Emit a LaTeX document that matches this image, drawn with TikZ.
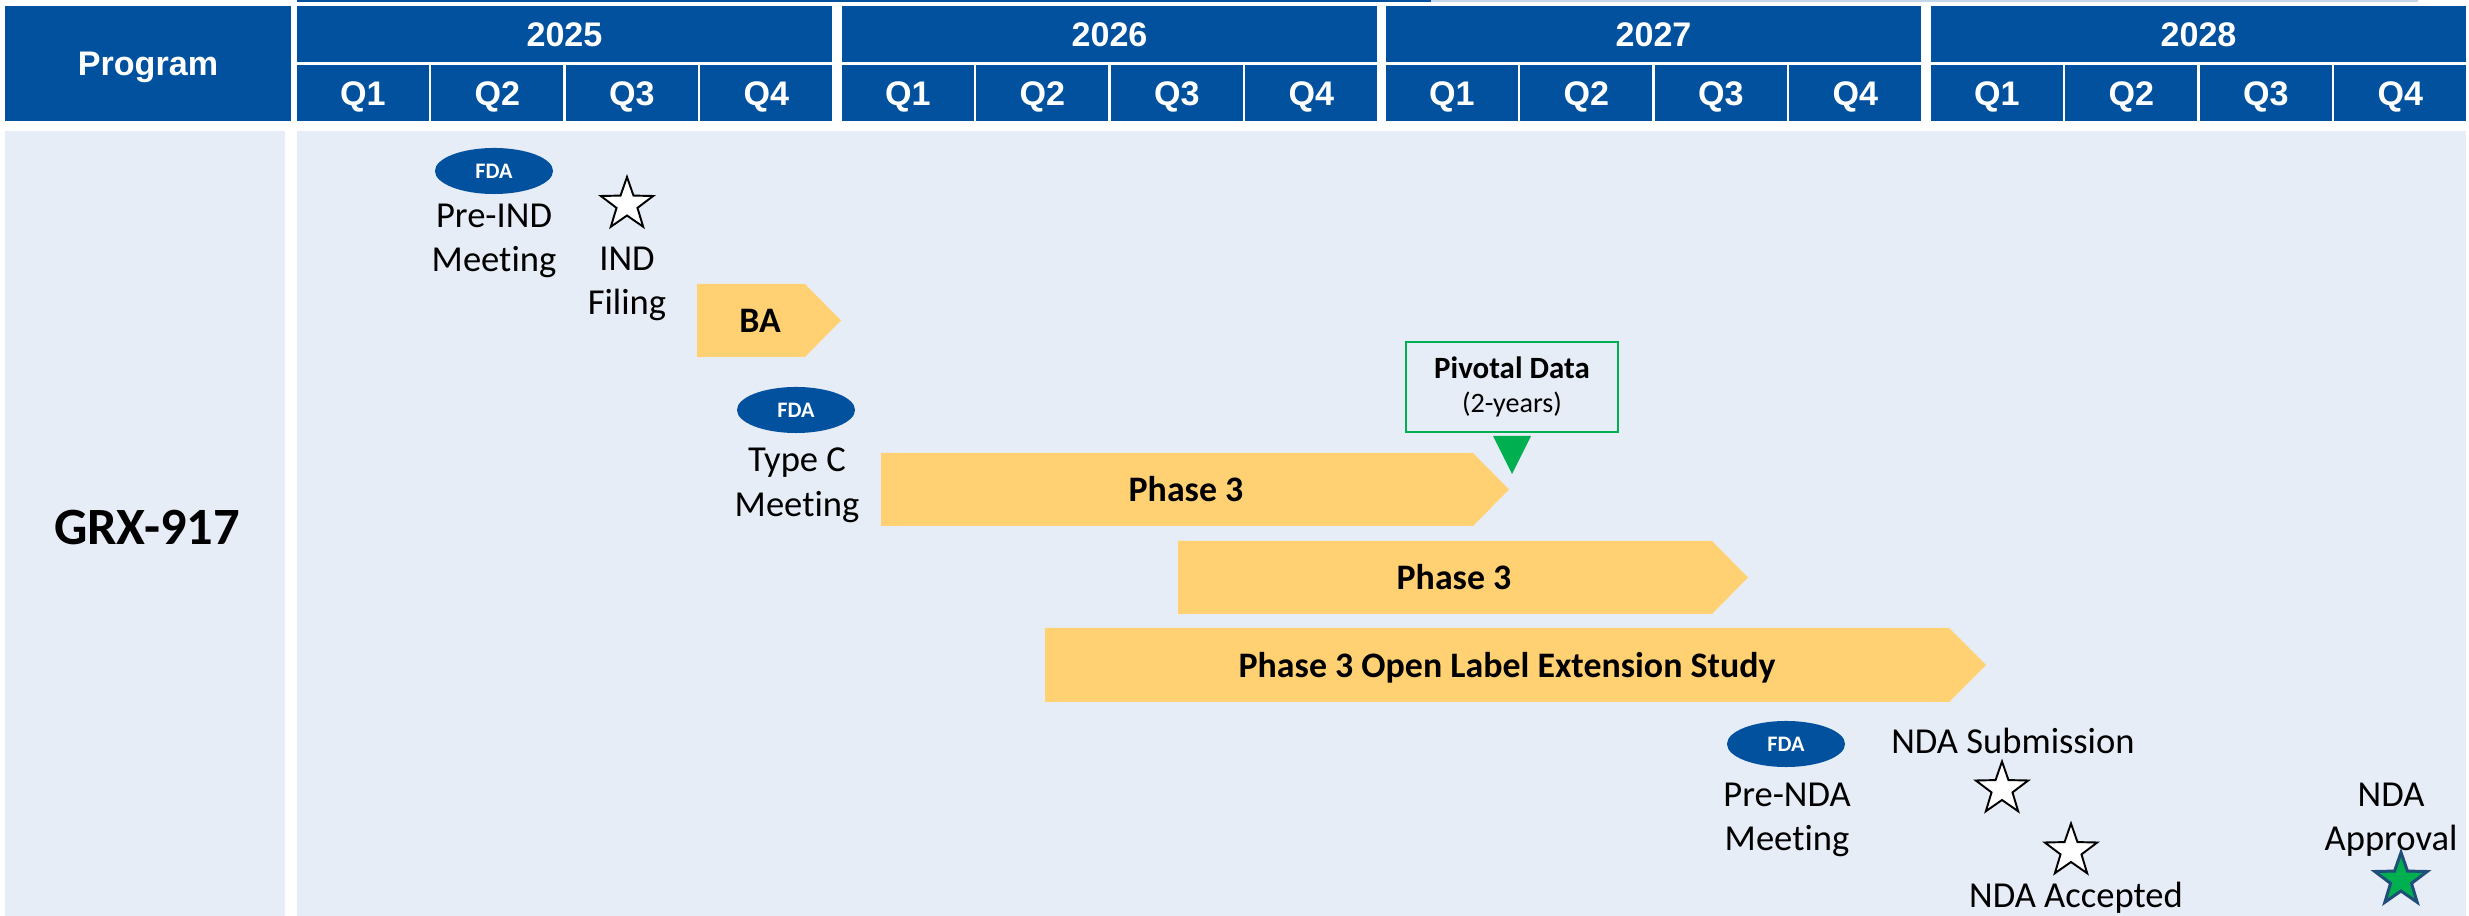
\documentclass[tikz,border=0pt]{standalone}
\usepackage{fontspec}
\setmainfont{Carlito}[Ligatures=NoCommon]
\newfontfamily\hdrfont{Liberation Sans}
\usetikzlibrary{shapes.geometric}

\definecolor{hdrblue}{RGB}{1,81,158}
\definecolor{toplight}{RGB}{196,213,234}
\definecolor{panelblue}{RGB}{231,237,246}
\definecolor{baryellow}{RGB}{255,209,115}
\definecolor{pivgreen}{RGB}{0,176,80}
\definecolor{starrim}{RGB}{31,78,121}

\begin{document}
\begin{tikzpicture}[
    x=0.01cm, y=-0.01cm,
    % Style for the header cells
    hdr/.style={
        fill=hdrblue, text=white, inner sep=0pt,
        text height=6.95pt, text depth=0pt,
        font=\hdrfont\bfseries\fontsize{9.7}{11}\selectfont
    },
    yearcell/.style={hdr, minimum width=5.35cm, minimum height=0.56cm},
    qcell/.style={hdr, minimum width=1.315cm, minimum height=0.56cm},
    % Style for the FDA meeting badges
    fda/.style={
        ellipse, fill=hdrblue, text=white, inner sep=0pt,
        minimum width=1.18cm, minimum height=0.46cm,
        font=\bfseries\fontsize{6.3}{7}\selectfont
    },
    % Style for the milestone stars
    milestone/.style={
        star, star points=5, star point ratio=2.5,
        minimum size=0.55cm, inner sep=0pt,
        draw=black, fill=white, line width=0.55pt
    },
    % Style for the event captions and bar texts
    lbl/.style={align=center, inner sep=0pt, font=\fontsize{10.4}{12.7}\selectfont},
    bartxt/.style={inner sep=0pt, anchor=base, font=\bfseries\fontsize{10.2}{12}\selectfont},
    bar/.style={fill=baryellow}
]

% --- Canvas ---
\fill[white] (0,0) rectangle (2469,916);
\useasboundingbox (0,0) rectangle (2469,916);
\draw[hdrblue, line width=0.6pt] (297,1) -- (1431,1);
\draw[toplight, line width=0.6pt] (1431,1) -- (2418,1);

% --- Header ---
\node[hdr, minimum width=2.86cm, minimum height=1.15cm] (prog) at (148,63.5) {Program};

\node[yearcell] (y2025) at (564.5,34) {2025};
\node[yearcell] (y2026) at (1109.5,34) {2026};
\node[yearcell] (y2027) at (1653.5,34) {2027};
\node[yearcell] (y2028) at (2198.5,34) {2028};

\node[qcell] (q25a) at (362.75,93) {Q1};
\node[qcell] (q25b) at (497.25,93) {Q2};
\node[qcell] (q25c) at (631.75,93) {Q3};
\node[qcell] (q25d) at (766.25,93) {Q4};
\node[qcell] (q26a) at (907.75,93) {Q1};
\node[qcell] (q26b) at (1042.25,93) {Q2};
\node[qcell] (q26c) at (1176.75,93) {Q3};
\node[qcell] (q26d) at (1311.25,93) {Q4};
\node[qcell] (q27a) at (1451.75,93) {Q1};
\node[qcell] (q27b) at (1586.25,93) {Q2};
\node[qcell] (q27c) at (1720.75,93) {Q3};
\node[qcell] (q27d) at (1855.25,93) {Q4};
\node[qcell] (q28a) at (1996.75,93) {Q1};
\node[qcell] (q28b) at (2131.25,93) {Q2};
\node[qcell] (q28c) at (2265.75,93) {Q3};
\node[qcell] (q28d) at (2400.25,93) {Q4};

% --- Body panels ---
\fill[panelblue] (5,131) rectangle (285,916);
\fill[panelblue] (297,131) rectangle (2466,916);
\node[inner sep=0pt, anchor=base, font=\bfseries\fontsize{14.9}{17}\selectfont] (grx) at (147,545) {GRX-917};

% --- 2025: Pre-IND meeting, IND filing, BA ---
\node[fda] (fda1) at (494,171) {FDA};
\node[lbl, anchor=north] (preind) at (494,203) {Pre-IND\\Meeting};
\node[milestone] (indstar) at (627,204.5) {};
\node[lbl, anchor=north] (indfil) at (627,246) {IND\\Filing};

\fill[bar] (697,284) -- (805,284) -- (841,320.5) -- (805,357) -- (697,357) -- cycle;
\node[bartxt] (ba) at (760,333) {BA};

% --- Type C meeting ---
\node[fda] (fda2) at (796,410) {FDA};
\node[lbl, anchor=north] (typec) at (797,447) {Type C\\Meeting};

% --- Phase 3 studies ---
\fill[bar] (881,453) -- (1473,453) -- (1509,489.5) -- (1473,526) -- (881,526) -- cycle;
\node[bartxt] (ph3a) at (1186,501.5) {Phase 3};

\fill[bar] (1178,541) -- (1712,541) -- (1748,577.5) -- (1712,614) -- (1178,614) -- cycle;
\node[bartxt] (ph3b) at (1454,590) {Phase 3};

\fill[bar] (1045,628) -- (1949,628) -- (1986,665) -- (1949,702) -- (1045,702) -- cycle;
\node[bartxt] (ole) at (1507,678) {Phase 3 Open Label Extension Study};

% --- Pivotal data callout ---
\node[draw=pivgreen, line width=0.8pt, minimum width=2.12cm, minimum height=0.9cm,
      align=center, inner sep=0pt, font=\fontsize{8.8}{9.7}\selectfont] (piv) at (1512,387)
      {{\bfseries Pivotal Data}\\{\fontsize{8}{9.7}\selectfont (2-years)}};
\fill[pivgreen] (1493,436) -- (1531,436) -- (1512,474) -- cycle;

% --- NDA ---
\node[fda] (fda3) at (1786,744) {FDA};
\node[lbl, anchor=north] (prenda) at (1787,782) {Pre-NDA\\Meeting};

\node[lbl, anchor=base] (ndasub) at (2013,754) {NDA Submission};
\node[milestone] (substar) at (2002,789) {};
\node[milestone] (accstar) at (2071,851) {};
\node[lbl, anchor=base] (ndaacc) at (2076,907) {NDA Accepted};

\node[lbl, anchor=north] (ndaapp) at (2391,782) {NDA\\Approval};
\node[milestone, fill=pivgreen, draw=starrim, line width=0.85pt] (appstar) at (2401,880) {};

\end{tikzpicture}
\end{document}
